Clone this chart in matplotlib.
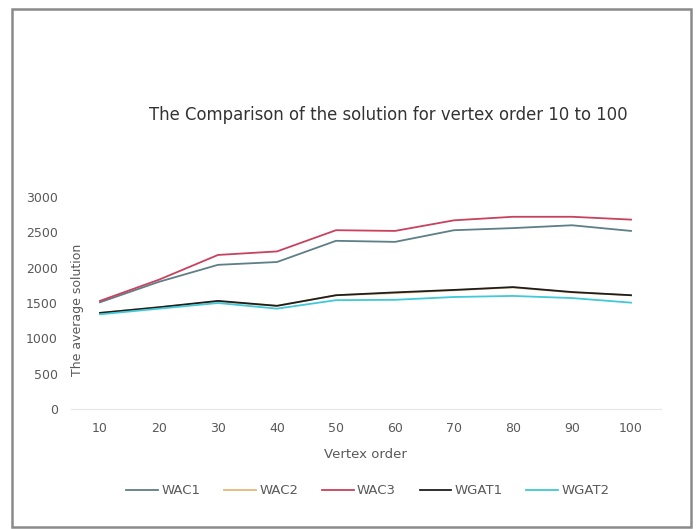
import matplotlib
matplotlib.use('Agg')
import matplotlib.pyplot as plt
from matplotlib.patches import Rectangle

plt.rcParams['font.family'] = ['DejaVu Sans']

# average solution per vertex order
vertex_order = [10, 20, 30, 40, 50, 60, 70, 80, 90, 100]
wac1 = [1510, 1800, 2040, 2080, 2380, 2365, 2530, 2560, 2600, 2520]
wac2 = [1360, 1440, 1520, 1460, 1610, 1640, 1680, 1720, 1650, 1610]
wac3 = [1530, 1830, 2180, 2230, 2530, 2520, 2670, 2720, 2720, 2680]
wgat1 = [1360, 1440, 1530, 1460, 1610, 1650, 1685, 1725, 1655, 1610]
wgat2 = [1340, 1420, 1500, 1420, 1540, 1545, 1585, 1600, 1570, 1505]
y_ticks = [0, 500, 1000, 1500, 2000, 2500, 3000]

series = [
    ('WAC1', wac1, '#5d7f86'),
    ('WAC2', wac2, '#e5b77a'),
    ('WAC3', wac3, '#c8415e'),
    ('WGAT1', wgat1, '#1e1e1e'),
    ('WGAT2', wgat2, '#3fc9d9'),
]

W, H = 698, 529
fig = plt.figure(figsize=(W / 100, H / 100), dpi=100)
fig.patch.set_facecolor('white')

# chart frame
fig.add_artist(Rectangle((12 / W, 2 / H), 679 / W, (H - 11) / H,
                         transform=fig.transFigure, fill=False,
                         edgecolor='#8a8a8a', linewidth=1.8))

ax = fig.add_axes([70.5 / W, (H - 409) / H, 590 / W, 212 / H])
for name, vals, color in series:
    ax.plot(vertex_order, vals, color=color, linewidth=1.3, label=name)

ax.set_xlim(5, 105)
ax.set_ylim(0, 3000)
ax.set_xticks(vertex_order)
ax.set_yticks(y_ticks)
ax.tick_params(axis='both', length=0, labelsize=9, colors='#595959')
ax.tick_params(axis='x', pad=9)
ax.tick_params(axis='y', pad=9)
for side in ('top', 'right', 'left'):
    ax.spines[side].set_visible(False)
ax.spines['bottom'].set_color('#e6e6e6')

fig.text(365 / W, 1 - 455 / H, 'Vertex order', fontsize=9.5,
         color='#595959', ha='center', va='center')
fig.text(78 / W, 1 - 310 / H, 'The average solution', fontsize=9,
         color='#595959', ha='center', va='center', rotation=90)

fig.text(388 / W, 1 - 115 / H,
         'The Comparison of the solution for vertex order 10 to 100',
         fontsize=11.9, color='#333333', ha='center', va='center')

ax.legend(loc='center', bbox_to_anchor=(368 / W, 1 - 491 / H),
          bbox_transform=fig.transFigure, ncol=5, frameon=False,
          fontsize=9.5, labelcolor='#595959', handlelength=2.4,
          columnspacing=1.8, handletextpad=0.25)

fig.savefig('out.png', dpi=100)
